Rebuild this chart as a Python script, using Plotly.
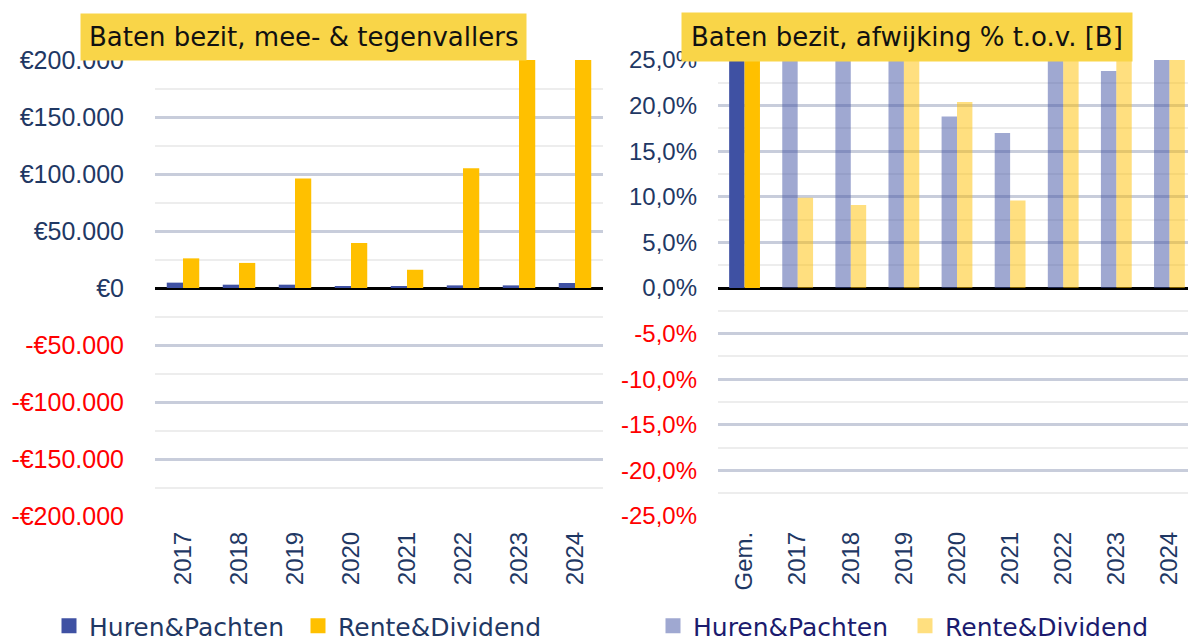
import plotly.graph_objects as go

# ---------------- data ----------------
years = ["2017", "2018", "2019", "2020", "2021", "2022", "2023", "2024"]
huren_eur = [4700, 2900, 2900, 1500, 1500, 2300, 2300, 4400]
rente_eur = [26000, 22000, 96000, 39500, 16000, 105000, 230000, 215000]

gem_label = "Gem."
huren_pct_gem = 32.0
rente_pct_gem = 34.0
huren_pct = [30.0, 31.0, 30.0, 18.8, 17.0, 29.0, 23.8, 31.0]
rente_pct = [9.9, 9.1, 29.0, 20.4, 9.6, 30.0, 28.0, 30.0]

eur_ticks = [200000, 150000, 100000, 50000, 0, -50000, -100000, -150000, -200000]
eur_text = ["€200.000", "€150.000", "€100.000", "€50.000", "€0",
            "-€50.000", "-€100.000", "-€150.000", "-€200.000"]
pct_ticks = [25, 20, 15, 10, 5, 0, -5, -10, -15, -20, -25]
pct_text = ["25,0%", "20,0%", "15,0%", "10,0%", "5,0%", "0,0%",
            "-5,0%", "-10,0%", "-15,0%", "-20,0%", "-25,0%"]

# ---------------- style ----------------
NAVY = "#1F3864"
RED = "#FF0000"
BLUE = "#3F51A3"
GOLD = "#FFC000"
BLUE_L = "rgba(63,81,163,0.5)"
GOLD_L = "rgba(255,192,0,0.5)"
MAJOR = "#C8CDDB"
MINOR = "#EDEDED"
LAB = "Liberation Sans, Arial, sans-serif"
TXTFONT = "DejaVu Sans, sans-serif"

# the page body has an 8px default margin: figure is drawn 8px right/down
OFF = 8
W, H = 1196 - OFF, 640 - OFF


def fx(px):
    return (px - OFF) / W


def fy(py):
    return 1 - (py - OFF) / H


def colored(txt, v):
    return f'<span style="color:{RED}">{txt}</span>' if v < 0 else txt


def legend_key(name, color, xa, ya, leg):
    # legend-only entry (no data) to get a larger square key
    return go.Scatter(x=[None], y=[None], mode="markers", name=name,
                      marker=dict(symbol="square", size=15, color=color, line=dict(width=0)),
                      xaxis=xa, yaxis=ya, legend=leg, hoverinfo="skip")


fig = go.Figure()

# left chart
fig.add_trace(go.Bar(x=years, y=huren_eur, name="Huren&Pachten", marker=dict(color=BLUE, line=dict(width=0)),
                     xaxis="x", yaxis="y", showlegend=False))
fig.add_trace(go.Bar(x=years, y=rente_eur, name="Rente&Dividend", marker=dict(color=GOLD, line=dict(width=0)),
                     xaxis="x", yaxis="y", showlegend=False))
fig.add_trace(legend_key("Huren&Pachten", BLUE, "x", "y", "legend"))
fig.add_trace(legend_key("Rente&Dividend", GOLD, "x", "y", "legend"))

# right chart
fig.add_trace(go.Bar(x=[gem_label], y=[huren_pct_gem], name="Huren&Pachten", offsetgroup="h",
                     marker=dict(color=BLUE, line=dict(width=0)), xaxis="x2", yaxis="y2", showlegend=False))
fig.add_trace(go.Bar(x=years, y=huren_pct, name="Huren&Pachten", offsetgroup="h",
                     marker=dict(color=BLUE_L, line=dict(width=0)), xaxis="x2", yaxis="y2", showlegend=False))
fig.add_trace(go.Bar(x=[gem_label], y=[rente_pct_gem], name="Rente&Dividend", offsetgroup="r",
                     marker=dict(color=GOLD, line=dict(width=0)), xaxis="x2", yaxis="y2", showlegend=False))
fig.add_trace(go.Bar(x=years, y=rente_pct, name="Rente&Dividend", offsetgroup="r",
                     marker=dict(color=GOLD_L, line=dict(width=0)), xaxis="x2", yaxis="y2", showlegend=False))
fig.add_trace(legend_key("Huren&Pachten", BLUE_L, "x2", "y2", "legend2"))
fig.add_trace(legend_key("Rente&Dividend", GOLD_L, "x2", "y2", "legend2"))

ydom = [fy(516), fy(60)]

common_y = dict(showgrid=True, gridcolor=MAJOR, gridwidth=3, zeroline=True, zerolinecolor="#000000",
                zerolinewidth=2.5, showline=False, ticks="", automargin=False)
common_x = dict(type="category", showgrid=False, zeroline=False, showline=False, ticks="",
                tickangle=-90, tickfont=dict(family=LAB, size=24, color=NAVY), ticklabelstandoff=10,
                automargin=False)

fig.update_layout(
    width=W, height=H,
    margin=dict(l=0, r=0, t=0, b=0, autoexpand=False),
    paper_bgcolor="white", plot_bgcolor="white",
    barmode="group", bargap=0.42, bargroupgap=0,
    xaxis=dict(domain=[fx(155), fx(603)], anchor="y", categoryorder="array", categoryarray=years, **common_x),
    yaxis=dict(domain=ydom, anchor="x", range=[-200000, 200000], tickmode="array", tickvals=eur_ticks,
               ticktext=[colored(t, v) for t, v in zip(eur_text, eur_ticks)], ticklabelstandoff=30,
               tickfont=dict(family=LAB, size=25, color=NAVY),
               minor=dict(dtick=25000, tick0=0, showgrid=True, gridcolor=MINOR, gridwidth=2, ticks=""),
               **common_y),
    xaxis2=dict(domain=[fx(718), 1.0], anchor="y2", categoryorder="array",
                categoryarray=[gem_label] + years, **common_x),
    yaxis2=dict(domain=ydom, anchor="x2", range=[-25, 25], tickmode="array", tickvals=pct_ticks,
                ticktext=[colored(t, v) for t, v in zip(pct_text, pct_ticks)], ticklabelstandoff=20,
                tickfont=dict(family=LAB, size=24, color=NAVY),
                minor=dict(dtick=2.5, tick0=0, showgrid=True, gridcolor=MINOR, gridwidth=2, ticks=""),
                **common_y),
    legend=dict(orientation="h", x=fx(49), y=fy(626), xanchor="left", yanchor="middle",
                font=dict(family=TXTFONT, size=25, color=NAVY), entrywidth=204, entrywidthmode="pixels",
                bgcolor="rgba(0,0,0,0)", itemclick=False, itemdoubleclick=False),
    legend2=dict(orientation="h", x=fx(653), y=fy(626), xanchor="left", yanchor="middle",
                 font=dict(family=TXTFONT, size=25, color="#1B1B6E"), entrywidth=207, entrywidthmode="pixels",
                 bgcolor="rgba(0,0,0,0)", itemclick=False, itemdoubleclick=False),
    annotations=[
        dict(text="Baten bezit, mee- & tegenvallers", xref="paper", yref="paper",
             x=fx(303.5), y=fy(37), xanchor="center", yanchor="middle", showarrow=False,
             bgcolor="#F9D548", borderpad=8, font=dict(family=TXTFONT, size=26, color="#111111")),
        dict(text="Baten bezit, afwijking % t.o.v. [B]", xref="paper", yref="paper",
             x=fx(906.5), y=fy(37), xanchor="center", yanchor="middle", showarrow=False,
             bgcolor="#F9D548", borderpad=9, font=dict(family=TXTFONT, size=26, color="#111111")),
    ],
)

fig.write_html("out.html")
